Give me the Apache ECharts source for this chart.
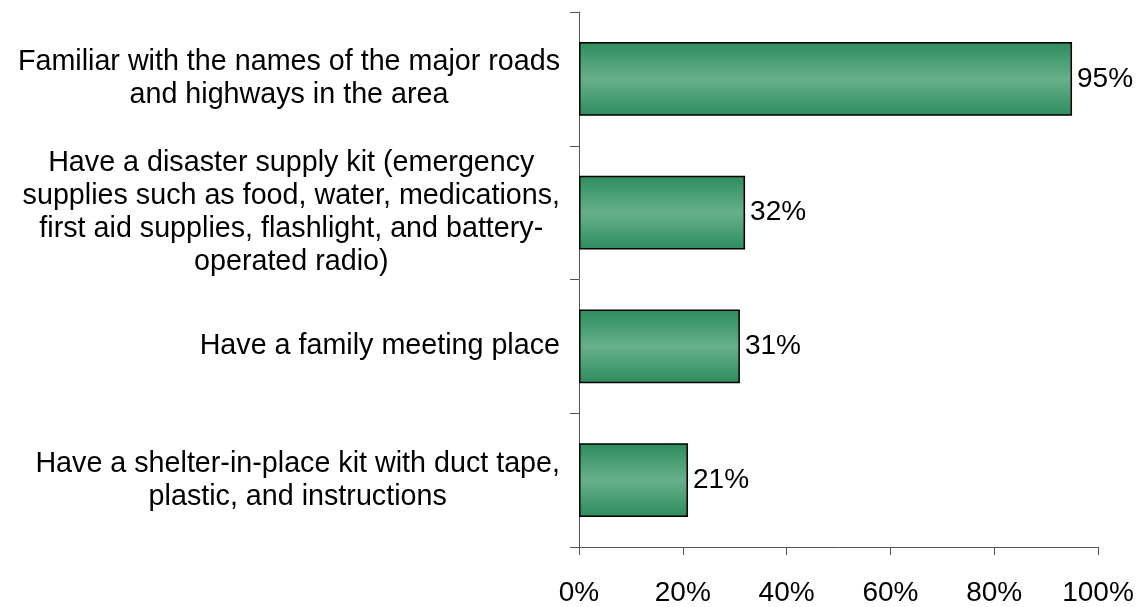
<!DOCTYPE html>
<html>
<head>
<meta charset="utf-8">
<script src="https://cdn.jsdelivr.net/npm/echarts@6/dist/echarts.min.js"></script>
<style>
  html, body { margin: 0; padding: 0; background: #fff; }
  #chart { width: 1140px; height: 607px; }
</style>
</head>
<body>
<div id="chart"></div>
<script>
var categories = [
    "Have a shelter-in-place kit with duct tape,\nplastic, and instructions",
    "Have a family meeting place",
    "Have a disaster supply kit (emergency\nsupplies such as food, water, medications,\nfirst aid supplies, flashlight, and battery-\noperated radio)",
    "Familiar with the names of the major roads\nand highways in the area"
];
var values = [21, 31, 32, 95];
var xTicks = [0, 20, 40, 60, 80, 100];

var chart = echarts.init(document.getElementById('chart'));

// vertical shading: darker green at top and bottom, lighter in the middle
var barColor = {
    type: 'linear', x: 0, y: 0, x2: 0, y2: 1,
    colorStops: [
        { offset: 0, color: '#2d8c5e' },
        { offset: 0.5, color: '#67b08b' },
        { offset: 1, color: '#2d8c5e' }
    ]
};

chart.setOption({
    animation: false,
    textStyle: { fontFamily: 'Liberation Sans, Arial, sans-serif' },
    grid: { left: 579, right: 42, top: 12, bottom: 60, containLabel: false },
    xAxis: {
        type: 'value',
        min: 0,
        max: 100,
        interval: 20,
        axisLine: { show: true, lineStyle: { color: '#555', width: 1 } },
        axisTick: { show: true, length: 8, lineStyle: { color: '#555' } },
        splitLine: { show: false },
        axisLabel: {
            fontSize: 28,
            color: '#000',
            margin: 32,
            formatter: function (v) {
                return xTicks.indexOf(v) >= 0 ? v + '%' : '';
            }
        }
    },
    yAxis: {
        type: 'category',
        data: categories,
        axisLine: { show: true, lineStyle: { color: '#555', width: 1 } },
        axisTick: { show: true, length: 9, lineStyle: { color: '#555' } },
        axisLabel: {
            fontSize: 28.7,
            color: '#000',
            margin: 19,
            lineHeight: 33,
            formatter: function (v) {
                return v.split('\n').map(function (l) { return '{c|' + l + '}'; }).join('\n');
            },
            rich: {
                c: { align: 'center', fontSize: 28.7, lineHeight: 33, color: '#000' }
            }
        }
    },
    series: [{
        type: 'bar',
        data: values,
        barCategoryGap: '45%',
        itemStyle: {
            color: barColor,
            borderColor: '#000',
            borderWidth: 1.5
        },
        label: {
            show: true,
            position: 'right',
            distance: 5,
            fontSize: 28,
            color: '#000',
            formatter: '{c}%'
        }
    }]
});
window.onresize = chart.resize;
</script>
</body>
</html>
